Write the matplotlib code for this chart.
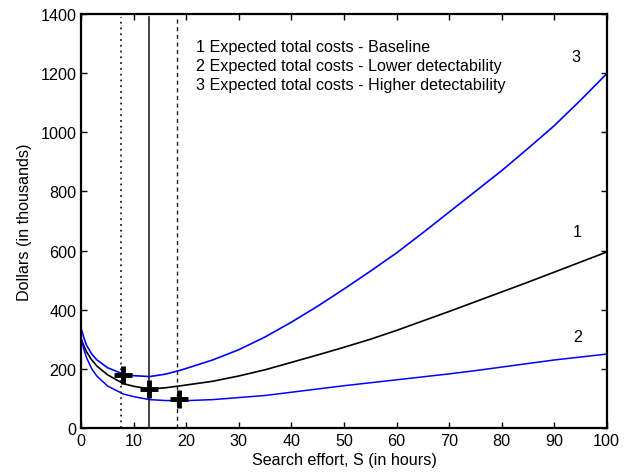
import matplotlib
matplotlib.use("Agg")
import matplotlib.pyplot as plt

plt.rcParams['font.family'] = ['Liberation Sans', 'DejaVu Sans']

# Search effort (hours)
S = [0, 0.5, 1, 2, 3, 5, 8, 10, 13, 16, 19, 25, 30, 35, 40, 45, 50, 55, 60, 65, 70, 75, 80, 85, 90, 95, 100]
# Expected total costs (thousands of dollars)
baseline = [300, 278, 258, 230, 209, 180, 150, 141, 132, 136, 143, 158, 176, 197, 222, 247, 273, 300, 330, 362, 394, 427, 460, 493, 527, 561, 595]
lower_det = [302, 266, 238, 200, 175, 142, 115, 106, 96, 93, 92, 96, 103, 110, 121, 132, 143, 153, 163, 173, 183, 194, 206, 218, 230, 240, 250]
higher_det = [335, 305, 280, 250, 230, 204, 182, 177, 174, 182, 196, 230, 265, 308, 358, 412, 470, 530, 592, 660, 730, 800, 870, 945, 1022, 1108, 1198]

# optimal search efforts (vertical lines) and minimum points
opt_S = [7.5, 12.9, 18.3]
opt_styles = [(0, (1, 2.2)), '-', (0, (3, 2.5))]
opt_widths = [1.3, 1.2, 1.0]
min_S = [8.0, 12.9, 18.6]
min_V = [180, 132, 99]

curve_labels = ['1', '2', '3']
curve_label_S = [94.4, 94.4, 94.2]
curve_label_V = [666, 308, 1255]

legend_lines = ['1 Expected total costs - Baseline',
                '2 Expected total costs - Lower detectability',
                '3 Expected total costs - Higher detectability']

fs = 11.6

fig = plt.figure(figsize=(6.3, 4.77), dpi=100)
ax = fig.add_axes([0.129, 0.1006, 0.834, 0.868])

ax.plot(S, higher_det, color='#0000ff', lw=1.2)
ax.plot(S, baseline, color='black', lw=1.2)
ax.plot(S, lower_det, color='#0000ff', lw=1.1)

for s, ls, w in zip(opt_S, opt_styles, opt_widths):
    ax.plot([s, s], [0, 1390], color='#222222', ls=ls, lw=w)

ax.plot(min_S, min_V, ls='none', marker='+', markersize=13, mew=3.5, color='black')

for t, s, v in zip(curve_labels, curve_label_S, curve_label_V):
    ax.text(s, v, t, fontsize=fs, ha='center', va='center')

for i, t in enumerate(legend_lines):
    ax.text(21.8, 1289 - i * 64, t, fontsize=fs, ha='left', va='center')

ax.set_xlim(0, 100)
ax.set_ylim(0, 1400)
ax.set_xticks(range(0, 101, 10))
ax.set_yticks(range(0, 1401, 200))
ax.tick_params(direction='in', top=True, right=True, labelsize=fs, length=4, width=1)
for sp in ax.spines.values():
    sp.set_linewidth(1.6)
ax.set_xlabel('Search effort, S (in hours)', fontsize=fs, labelpad=3)
ax.set_ylabel('Dollars (in thousands)', fontsize=fs, labelpad=6)

fig.savefig('out.png', dpi=100)
